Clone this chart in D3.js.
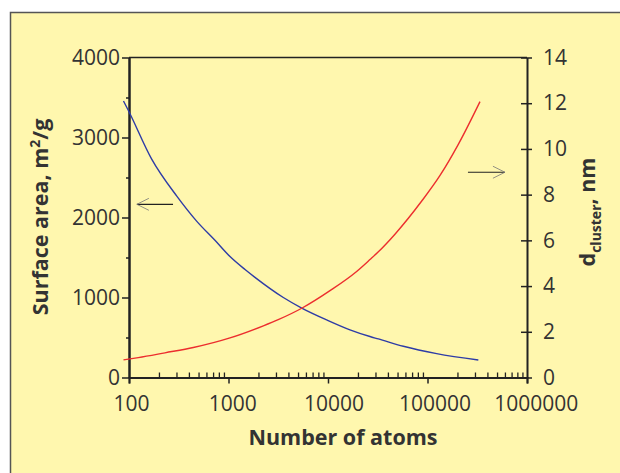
<!DOCTYPE html>
<html>
<head>
<meta charset="utf-8">
<script src="https://cdn.jsdelivr.net/npm/d3@7"></script>
<style>
  body { margin: 0; background: #fff; }
  text { font-family: "Open Sans", sans-serif; fill: #333; }
</style>
</head>
<body>
<div id="chart"></div>
<script>
// Surface area (left axis)
var areaAtoms = [88, 98, 169, 301, 478, 731, 1035, 1466, 1845, 3556, 5445, 9700, 16630, 26400, 32060, 57150, 123600, 324300];
var areaValues = [3456, 3344, 2730, 2270, 1955, 1715, 1512, 1350, 1252, 1000, 868, 720, 596, 512, 482, 390, 298, 219];

// Cluster diameter (right axis)
var diamAtoms = [88, 124, 230, 443, 1035, 2240, 3160, 5445, 10470, 19400, 26400, 32060, 47100, 87500, 133600, 204000, 337000];
var diamValues = [0.77, 0.87, 1.08, 1.31, 1.73, 2.26, 2.53, 3.03, 3.80, 4.64, 5.16, 5.50, 6.27, 7.72, 8.84, 10.2, 12.07];

var xTicks = [100, 1000, 10000, 100000, 1000000];
var leftTicks = [0, 1000, 2000, 3000, 4000];
var rightTicks = [0, 2, 4, 6, 8, 10, 12, 14];

var width = 620, height = 473;
var margin = { top: 57.5, right: 93, bottom: 95.5, left: 129 };
var innerW = width - margin.left - margin.right;
var innerH = height - margin.top - margin.bottom;

var svg = d3.select("#chart").append("svg")
    .attr("width", width)
    .attr("height", height);

// yellow panel with border
svg.append("rect")
    .attr("x", 10.5).attr("y", 12.5)
    .attr("width", 620).attr("height", 480)
    .attr("fill", "#fff7ae")
    .attr("stroke", "#555")
    .attr("stroke-width", 1.5);

var g = svg.append("g")
    .attr("transform", "translate(" + margin.left + "," + margin.top + ")");

var x = d3.scaleLog().domain([100, 1000000]).range([0, innerW]);
var yL = d3.scaleLinear().domain([0, 4000]).range([innerH, 0]);
var yR = d3.scaleLinear().domain([0, 14]).range([innerH, 0]);

// top frame line
g.append("line")
    .attr("x1", 0).attr("x2", innerW)
    .attr("y1", 0).attr("y2", 0)
    .attr("stroke", "#222").attr("stroke-width", 1.5);

// x axis minor ticks (inside)
var minor = [];
for (var e = 100; e < 1000000; e *= 10) {
    for (var k = 2; k <= 9; k++) minor.push(e * k);
}
g.append("g")
    .attr("transform", "translate(0," + innerH + ")")
    .call(d3.axisTop(x).tickValues(minor).tickSize(5).tickFormat(""))
    .call(a => a.select(".domain").remove())
    .call(a => a.selectAll("line").attr("stroke", "#222").attr("stroke-width", 1.3));

var xAxis = g.append("g")
    .attr("transform", "translate(0," + innerH + ")")
    .call(d3.axisBottom(x).tickValues(xTicks).tickSize(6).tickPadding(13).tickFormat(d3.format("d")));
xAxis.select(".domain").attr("stroke", "#222").attr("stroke-width", 2);
xAxis.selectAll("line").attr("stroke", "#222").attr("stroke-width", 1.5);
xAxis.selectAll("text").attr("font-size", 21).attr("fill", "#333")
    .attr("font-family", "Open Sans").attr("dx", (d, i) => i * 1.7 + 2);

// left axis
g.append("g")
    .call(d3.axisLeft(yL).tickValues([500, 1500, 2500, 3500]).tickSize(3).tickFormat(""))
    .call(a => a.select(".domain").remove())
    .call(a => a.selectAll("line").attr("stroke", "#222").attr("stroke-width", 1.5));
var leftAxis = g.append("g")
    .call(d3.axisLeft(yL).tickValues(leftTicks).tickSize(7).tickSizeOuter(0).tickPadding(2).tickFormat(d3.format("d")));
leftAxis.select(".domain").attr("stroke", "#222").attr("stroke-width", 2.5);
leftAxis.selectAll("line").attr("stroke", "#222").attr("stroke-width", 1.5);
leftAxis.selectAll("text").attr("font-size", 21).attr("fill", "#333").attr("font-family", "Open Sans");

// right axis, ticks cross the line
var rightAxis = g.append("g")
    .attr("transform", "translate(" + innerW + ",0)")
    .call(d3.axisRight(yR).tickValues(rightTicks).tickSize(5).tickSizeOuter(0).tickPadding(11));
rightAxis.select(".domain").attr("stroke", "#222").attr("stroke-width", 2);
rightAxis.selectAll("line").attr("x1", -6).attr("stroke", "#222").attr("stroke-width", 1.5);
rightAxis.selectAll("text").attr("font-size", 21).attr("fill", "#333").attr("font-family", "Open Sans");

// curves
var areaLine = d3.line()
    .x(d => x(d[0]))
    .y(d => yL(d[1]))
    .curve(d3.curveMonotoneX);
var diamLine = d3.line()
    .x(d => x(d[0]))
    .y(d => yR(d[1]))
    .curve(d3.curveMonotoneX);

g.append("path")
    .datum(areaAtoms.map((n, i) => [n, areaValues[i]]))
    .attr("d", areaLine)
    .attr("fill", "none")
    .attr("stroke", "#2e3ca6")
    .attr("stroke-width", 1.4);

g.append("path")
    .datum(diamAtoms.map((n, i) => [n, diamValues[i]]))
    .attr("d", diamLine)
    .attr("fill", "none")
    .attr("stroke", "#ec2e2e")
    .attr("stroke-width", 1.4);

// arrows pointing to each axis
function arrow(x1, x2, yv, dir) {
    g.append("line")
        .attr("x1", x1).attr("x2", x2).attr("y1", yv).attr("y2", yv)
        .attr("stroke", "#222").attr("stroke-width", 1.2);
    g.append("path")
        .attr("d", "M" + (x2 - dir * 12) + "," + (yv - 6) + "L" + x2 + "," + yv + "L" + (x2 - dir * 12) + "," + (yv + 6))
        .attr("fill", "none").attr("stroke", "#777").attr("stroke-width", 0.8);
}
arrow(x(277), x(120), yL(2165), -1);
arrow(x(255000), x(600000), yR(8.98), 1);

// axis titles
svg.append("text")
    .attr("x", 343).attr("y", 445)
    .attr("text-anchor", "middle")
    .attr("font-size", 21.5).attr("font-weight", "bold").attr("fill", "#222")
    .text("Number of atoms");

svg.append("text")
    .attr("transform", "translate(48,217) rotate(-90)")
    .attr("text-anchor", "middle")
    .attr("font-size", 21.5).attr("font-weight", "bold").attr("fill", "#222")
    .html("Surface area, m<tspan dy='-8' font-size='14'>2</tspan><tspan dy='8'>/g</tspan>");

svg.append("text")
    .attr("transform", "translate(595,212) rotate(-90)")
    .attr("text-anchor", "middle")
    .attr("font-size", 21.5).attr("font-weight", "bold").attr("fill", "#222")
    .html("d<tspan dy='6' font-size='14'>cluster</tspan><tspan dy='-6'>, nm</tspan>");
</script>
</body>
</html>
